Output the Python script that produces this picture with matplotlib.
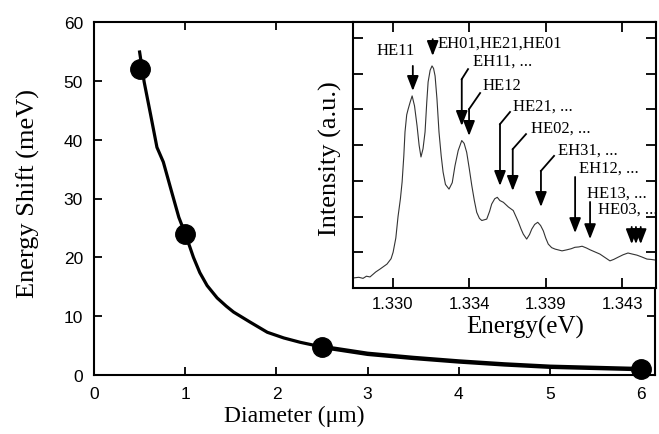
import numpy as np
import matplotlib
matplotlib.use('Agg')
import matplotlib.pyplot as plt

# Main plot: measured points and guide curve
diameter = [0.5, 1.0, 2.5, 6.0]
shift = [52.0, 24.0, 4.8, 1.1]

curve_d = [0.5, 0.55, 0.62, 0.69, 0.76, 0.85, 0.93, 1.0, 1.05, 1.09, 1.16, 1.24,
           1.35, 1.45, 1.53, 1.71, 1.90, 2.08, 2.26, 2.49]
curve_e = [54.9, 49.8, 44.3, 38.7, 36.2, 31.2, 26.8, 24.0, 21.8, 20.0, 17.4, 15.2,
           13.1, 11.7, 10.7, 9.0, 7.26, 6.3, 5.56, 4.8]
tail_d = [2.49, 3.0, 3.5, 4.0, 4.5, 5.0, 5.5, 6.0]
tail_e = [4.8, 3.6, 2.9, 2.3, 1.8, 1.4, 1.2, 1.0]

# Inset: PL spectrum
energy = [1.32766, 1.32800, 1.32825, 1.32845, 1.32866, 1.32900, 1.32925, 1.32966,
          1.32990, 1.33002, 1.33018, 1.33031, 1.33045, 1.33055, 1.33065, 1.33072,
          1.33082, 1.33090, 1.33102, 1.33114, 1.33128, 1.33143, 1.33155, 1.33166,
          1.33178, 1.33190, 1.33200, 1.33208, 1.33220, 1.33231, 1.33240, 1.33249,
          1.33260, 1.33272, 1.33285, 1.33296, 1.33310, 1.33331, 1.33350, 1.33366,
          1.33385, 1.33406, 1.33420, 1.33435, 1.33450, 1.33465, 1.33480, 1.33494,
          1.33510, 1.33524, 1.33553, 1.33570, 1.33582, 1.33600, 1.33615, 1.33630,
          1.33651, 1.33680, 1.33709, 1.33725, 1.33739, 1.33755, 1.33768, 1.33788,
          1.33805, 1.33818, 1.33835, 1.33853, 1.33870, 1.33886, 1.33900, 1.33915,
          1.33935, 1.33955, 1.33996, 1.34025, 1.34050, 1.34072, 1.34095, 1.34114,
          1.34140, 1.34161, 1.34190, 1.34219, 1.34250, 1.34278, 1.34300, 1.34325,
          1.34355, 1.34384, 1.34410, 1.34437, 1.34465, 1.34496, 1.34520, 1.34549]
intensity = [0.28, 0.30, 0.27, 0.33, 0.31, 0.45, 0.53, 0.67,
             0.82, 1.0, 1.4, 2.0, 2.5, 2.97, 3.7, 4.37,
             4.85, 5.0, 5.2, 5.38, 5.1, 4.54, 4.0, 3.67,
             3.9, 4.37, 5.2, 5.77, 6.1, 6.22, 6.15, 5.94,
             5.3, 4.37, 3.7, 3.25, 2.9, 2.77, 2.95, 3.42,
             3.85, 4.13, 4.05, 3.8, 3.35, 2.87, 2.45, 2.12,
             1.95, 1.89, 1.93, 2.15, 2.35, 2.5, 2.54, 2.45,
             2.4, 2.27, 2.17, 2.0, 1.85, 1.65, 1.51, 1.37,
             1.5, 1.65, 1.78, 1.84, 1.75, 1.6, 1.4, 1.23,
             1.13, 1.09, 1.04, 1.07, 1.1, 1.14, 1.15, 1.17,
             1.12, 1.07, 1.01, 0.95, 0.85, 0.76, 0.80, 0.86,
             0.93, 0.98, 0.95, 0.92, 0.87, 0.81, 0.80, 0.78]

inset_ticks = [1.330, 1.3345, 1.339, 1.3435]
inset_ticklabels = ['1.330', '1.334', '1.339', '1.343']

serif = 'Liberation Serif'
sans = 'Liberation Sans'

fig = plt.figure(figsize=(6.59, 4.35), dpi=100)

# ---- main axes ----
ax = fig.add_axes([94 / 659, 1 - 376 / 435, 561 / 659, 353 / 435])
ax.plot(curve_d, curve_e, color='black', lw=2.3, zorder=2, solid_joinstyle='round')
ax.plot(tail_d, tail_e, color='black', lw=3.2, zorder=2, solid_joinstyle='round')
ax.plot(diameter, shift, 'o', color='black', ms=14, zorder=3, clip_on=False)
ax.set_xlim(0, 6.15)
ax.set_ylim(0, 60)
ax.set_xticks(range(7))
ax.set_yticks(range(0, 61, 10))
ax.tick_params(direction='in', top=True, right=True, length=6, width=1.3,
               pad=8, labelsize=12.5)
for lab in ax.get_xticklabels() + ax.get_yticklabels():
    lab.set_family(sans)
for s in ax.spines.values():
    s.set_linewidth(1.5)
ax.set_xlabel('Diameter (\u03bcm)', family=serif, fontsize=17)
ax.set_ylabel('Energy Shift (meV)', family=serif, fontsize=19)
ax.xaxis.set_label_coords(0.357, -0.085)
ax.yaxis.set_label_coords(-0.097, 0.518)

# ---- inset ----
ins = fig.add_axes([353 / 659, 1 - 289 / 435, 303 / 659, 266 / 435])
ins.set_facecolor('white')
ins.set_zorder(5)
ins.plot(energy, intensity, color='#333333', lw=0.8)
ins.set_xlim(1.32766, 1.34549)
ins.set_ylim(0, 7.45)
ins.set_xticks(inset_ticks)
ins.set_xticklabels(inset_ticklabels, family=sans)
ins.set_yticks(range(1, 8))
ins.set_yticklabels([])
ins.tick_params(direction='in', top=True, right=True, length=7, width=1.3,
                pad=6, labelsize=12)
for s in ins.spines.values():
    s.set_linewidth(1.5)
ins.set_xlabel('Energy(eV)', family=serif, fontsize=18)
ins.set_ylabel('Intensity (a.u.)', family=serif, fontsize=19)
ins.xaxis.set_label_coords(0.568, -0.1)
ins.yaxis.set_label_coords(-0.035, 0.489)


def arrow(axis, pts):
    # polyline ending in a filled arrow head
    xs = [p[0] for p in pts]
    ys = [p[1] for p in pts]
    if len(pts) > 2:
        axis.plot(xs[:-1], ys[:-1], color='black', lw=1.3)
    axis.annotate('', xy=pts[-1], xytext=pts[-2],
                  arrowprops=dict(arrowstyle='-|>,head_length=0.9,head_width=0.35',
                                  color='black', lw=1.3, mutation_scale=10,
                                  shrinkA=0, shrinkB=0))


tfont = dict(family=serif, fontsize=12, va='center')

ins.text(1.33019, 6.67, 'HE11', ha='center', **tfont)
arrow(ins, [(1.33118, 6.22), (1.33118, 5.52)])

ins.text(1.33262, 6.86, 'EH01,HE21,HE01', ha='left', **tfont)
arrow(ins, [(1.33235, 6.97), (1.33235, 6.50)])

ins.text(1.33472, 6.36, 'EH11, ...', ha='left', **tfont)
arrow(ins, [(1.33443, 6.13), (1.33406, 5.85), (1.33406, 4.54)])

ins.text(1.33531, 5.69, 'HE12', ha='left', **tfont)
arrow(ins, [(1.33514, 5.46), (1.33449, 5.01), (1.33449, 4.26)])

ins.text(1.33708, 5.10, 'HE21, ...', ha='left', **tfont)
arrow(ins, [(1.33690, 4.93), (1.33631, 4.59), (1.33631, 2.86)])

ins.text(1.33814, 4.48, 'HE02, ...', ha='left', **tfont)
arrow(ins, [(1.33784, 4.31), (1.33706, 3.89), (1.33706, 2.72)])

ins.text(1.33971, 3.87, 'EH31, ...', ha='left', **tfont)
arrow(ins, [(1.33949, 3.70), (1.33872, 3.28), (1.33872, 2.27)])

ins.text(1.34096, 3.36, 'EH12, ...', ha='left', **tfont)
arrow(ins, [(1.34073, 3.11), (1.34073, 1.54)])

ins.text(1.34143, 2.66, 'HE13, ...', ha='left', **tfont)
arrow(ins, [(1.34161, 2.41), (1.34161, 1.37)])

ins.text(1.34208, 2.21, 'HE03, ...', ha='left', clip_on=True, **tfont)
for xe in [1.34406, 1.34431, 1.34459]:
    arrow(ins, [(xe, 1.71), (xe, 1.23)])

fig.savefig('out.png', dpi=100)
